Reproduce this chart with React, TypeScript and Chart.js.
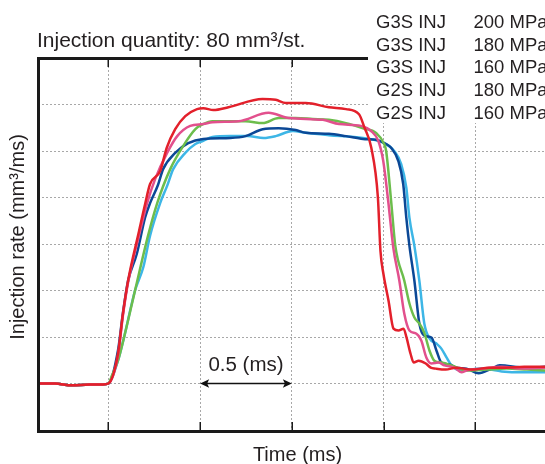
import React, { useEffect, useRef } from "react";
import { Chart, registerables } from "chart.js";

Chart.register(...registerables);

// ---- data (time in ms, injection rate in mm³/ms) ----
const baseT = [-0.386, -0.293, -0.2, -0.101, -0.03, 0];
const baseQ = [0, 0, -0.4, -0.2, -0.2, 0];

const redT = [0.052, 0.079, 0.107, 0.167, 0.2, 0.227, 0.282, 0.318, 0.364, 0.419, 0.483, 0.517, 0.572, 0.654, 0.84, 0.912, 0.967, 1.076, 1.202, 1.295, 1.366, 1.395, 1.433, 1.469, 1.483, 1.499, 1.527, 1.554, 1.581, 1.609, 1.625, 1.647, 1.664, 1.691, 1.73, 1.757, 1.785, 1.839, 1.894, 1.982, 2.075, 2.168, 2.267, 2.39];
const redQ = [6.4, 15.0, 22.1, 32.8, 38.6, 42.9, 45.7, 50.7, 54.7, 57.5, 59.0, 59.2, 58.8, 59.4, 61.2, 61.0, 60.3, 60.3, 59.4, 59.0, 57.9, 55.1, 50.7, 40.0, 28.5, 23.6, 17.8, 11.8, 11.4, 11.8, 9.9, 6.4, 4.5, 4.9, 4.3, 3.4, 3.2, 3.0, 3.4, 3.0, 3.4, 3.4, 3.6, 3.6];

const pinkT = [0.052, 0.079, 0.107, 0.162, 0.211, 0.255, 0.32, 0.375, 0.446, 0.517, 0.567, 0.709, 0.873, 0.983, 1.169, 1.257, 1.377, 1.432, 1.471, 1.498, 1.525, 1.553, 1.586, 1.613, 1.641, 1.679, 1.706, 1.733, 1.761, 1.799, 1.832, 1.887, 1.925, 1.952, 2.035, 2.144, 2.254, 2.39];
const pinkQ = [6.0, 14.6, 21.7, 31.1, 38.8, 44.0, 49.6, 53.2, 55.4, 55.8, 56.2, 56.4, 58.2, 57.1, 56.7, 55.8, 55.4, 54.3, 52.2, 47.9, 39.3, 29.2, 22.1, 15.0, 11.4, 10.7, 9.2, 5.6, 4.3, 4.5, 3.9, 3.4, 2.4, 2.8, 3.2, 3.6, 3.2, 3.4];

const greenT = [0.019, 0.052, 0.085, 0.145, 0.216, 0.266, 0.337, 0.408, 0.474, 0.517, 0.567, 0.747, 0.841, 0.928, 1.021, 1.114, 1.202, 1.295, 1.388, 1.459, 1.503, 1.514, 1.541, 1.564, 1.613, 1.641, 1.668, 1.695, 1.722, 1.75, 1.777, 1.815, 1.87, 1.952, 2.062, 2.171, 2.281, 2.39];
const greenQ = [1.7, 4.9, 9.9, 20.0, 31.8, 38.8, 46.1, 51.1, 54.7, 55.8, 56.4, 56.4, 56.0, 57.1, 57.1, 56.9, 56.7, 56.0, 54.9, 53.9, 51.5, 50.0, 39.3, 29.6, 22.1, 17.2, 14.2, 12.9, 10.9, 7.1, 4.9, 4.5, 3.9, 2.8, 3.0, 3.2, 3.0, 2.8];

const navyT = [0.052, 0.079, 0.107, 0.154, 0.2, 0.227, 0.27, 0.298, 0.364, 0.435, 0.517, 0.665, 0.747, 0.841, 0.928, 1.021, 1.076, 1.202, 1.295, 1.388, 1.459, 1.514, 1.541, 1.58, 1.607, 1.624, 1.641, 1.668, 1.695, 1.722, 1.761, 1.788, 1.815, 1.859, 1.898, 1.952, 2.018, 2.089, 2.133, 2.27, 2.39];
const navyQ = [7.1, 15.2, 22.1, 27.8, 35.7, 38.8, 42.7, 46.1, 49.6, 51.7, 52.6, 52.8, 53.2, 54.7, 54.9, 54.5, 53.9, 53.7, 53.2, 52.6, 52.4, 51.5, 50.7, 47.9, 42.9, 35.6, 29.6, 22.1, 12.9, 10.3, 9.9, 7.1, 4.5, 4.1, 3.4, 3.2, 2.2, 3.2, 3.9, 3.4, 3.6];

const skyT = [0.052, 0.085, 0.145, 0.19, 0.227, 0.282, 0.32, 0.353, 0.419, 0.474, 0.517, 0.567, 0.665, 0.758, 0.846, 0.912, 1.005, 1.076, 1.202, 1.388, 1.503, 1.558, 1.596, 1.624, 1.641, 1.668, 1.695, 1.722, 1.75, 1.788, 1.815, 1.843, 1.87, 1.925, 2.035, 2.144, 2.254, 2.39];
const skyQ = [4.9, 9.9, 20.0, 25.0, 31.8, 38.8, 42.5, 46.1, 49.6, 51.5, 52.2, 53.0, 53.2, 53.2, 52.8, 53.2, 54.3, 53.9, 53.4, 52.8, 51.7, 50.0, 47.2, 42.1, 35.6, 29.6, 22.1, 12.9, 9.7, 8.6, 7.5, 5.6, 3.9, 2.8, 3.2, 2.6, 2.4, 2.4];

const legendNames = ["G3S INJ", "G3S INJ", "G3S INJ", "G2S INJ", "G2S INJ"];
const legendPressures = ["200 MPa", "180 MPa", "160 MPa", "180 MPa", "160 MPa"];
const xTicks = [0, 0.5, 1, 1.5, 2];
const arrowSpan = [0.5, 1.0];

const FONT = '"Liberation Sans", Arial, Helvetica, sans-serif';
const TEXT = "#231f20";

function pts(t: number[], q: number[]) {
  const all = baseT.concat(t);
  const allQ = baseQ.concat(q);
  return all.map((x, i) => ({ x, y: allQ[i] }));
}

const overlay = {
  id: "overlay",
  afterDraw(chart: any) {
    const { ctx, chartArea: a, scales } = chart;
    const xs = scales.x;
    const ys = scales.y;
    const legendLeft = 368;
    const legendBottom = 123;
    ctx.save();

    // legend background box
    ctx.fillStyle = "#ffffff";
    ctx.fillRect(legendLeft, 0, chart.width - legendLeft, legendBottom);

    // frame
    ctx.strokeStyle = "#1a1a1a";
    ctx.lineCap = "butt";
    ctx.lineWidth = 3;
    ctx.beginPath();
    ctx.moveTo(a.left - 0.5, a.top + 0.5);
    ctx.lineTo(legendLeft, a.top + 0.5);
    ctx.stroke();
    ctx.beginPath();
    ctx.moveTo(a.left + 0.5, a.top - 1);
    ctx.lineTo(a.left + 0.5, a.bottom + 3);
    ctx.stroke();
    ctx.beginPath();
    ctx.moveTo(a.left - 1, a.bottom + 1.5);
    ctx.lineTo(a.right, a.bottom + 1.5);
    ctx.stroke();

    // tick marks
    ctx.lineWidth = 1.5;
    xTicks.forEach((v) => {
      const px = Math.round(xs.getPixelForValue(v)) + 0.25;
      ctx.beginPath();
      ctx.moveTo(px, a.bottom);
      ctx.lineTo(px, a.bottom - 8);
      ctx.stroke();
      if (px < legendLeft) {
        ctx.beginPath();
        ctx.moveTo(px, a.top + 1);
        ctx.lineTo(px, a.top + 9);
        ctx.stroke();
      }
    });

    // title
    ctx.fillStyle = TEXT;
    ctx.font = `21px ${FONT}`;
    ctx.textAlign = "left";
    ctx.textBaseline = "alphabetic";
    ctx.fillText("Injection quantity: 80 mm³/st.", 37, 47);

    // x-axis title
    ctx.font = `20px ${FONT}`;
    ctx.textAlign = "center";
    ctx.fillText("Time (ms)", (a.left + a.right) / 2 + 6, 461);

    // y-axis title
    ctx.save();
    ctx.translate(24, 237);
    ctx.rotate(-Math.PI / 2);
    ctx.textAlign = "center";
    ctx.fillText("Injection rate (mm³/ms)", 0, 0);
    ctx.restore();

    // legend text
    ctx.font = `18.5px ${FONT}`;
    ctx.textAlign = "left";
    const baselines = [28, 50.7, 73.4, 96.1, 118.8];
    legendNames.forEach((n, i) => {
      ctx.fillText(n, 376, baselines[i]);
      ctx.fillText(legendPressures[i], 473.5, baselines[i]);
    });

    // 0.5 ms arrow
    const x1 = xs.getPixelForValue(arrowSpan[0]);
    const x2 = xs.getPixelForValue(arrowSpan[1]);
    const yy = ys.getPixelForValue(0);
    ctx.strokeStyle = "#111";
    ctx.fillStyle = "#111";
    ctx.lineWidth = 1.6;
    ctx.beginPath();
    ctx.moveTo(x1 + 6, yy);
    ctx.lineTo(x2 - 6, yy);
    ctx.stroke();
    const head = (tip: number, dir: number) => {
      ctx.beginPath();
      ctx.moveTo(tip, yy);
      ctx.lineTo(tip + dir * 9, yy - 4.2);
      ctx.lineTo(tip + dir * 7, yy);
      ctx.lineTo(tip + dir * 9, yy + 4.2);
      ctx.closePath();
      ctx.fill();
    };
    head(x1, 1);
    head(x2, -1);
    ctx.fillStyle = TEXT;
    ctx.font = `20.5px ${FONT}`;
    ctx.textAlign = "center";
    ctx.fillText("0.5 (ms)", (x1 + x2) / 2, yy - 13);

    ctx.restore();
  },
};

export default function App() {
  const ref = useRef<HTMLCanvasElement | null>(null);

  useEffect(() => {
    if (!ref.current) return;
    const mk = (data: any, color: string) => ({
      data,
      borderColor: color,
      backgroundColor: color,
      borderWidth: 2.5,
      pointRadius: 0,
      fill: false,
      cubicInterpolationMode: "monotone" as const,
      borderJoinStyle: "round" as const,
      borderCapStyle: "round" as const,
    });
    const chart = new Chart(ref.current, {
      type: "line",
      data: {
        datasets: [
          mk(pts(redT, redQ), "#e3202b"),
          mk(pts(pinkT, pinkQ), "#e2508d"),
          mk(pts(greenT, greenQ), "#6cbd4c"),
          mk(pts(navyT, navyQ), "#0b4896"),
          mk(pts(skyT, skyQ), "#3db6e6"),
        ],
      },
      options: {
        responsive: false,
        animation: false,
        devicePixelRatio: 1,
        layout: { padding: { left: 38, top: 58, right: 0, bottom: 34 } },
        plugins: { legend: { display: false }, tooltip: { enabled: false }, title: { display: false } },
        scales: {
          x: {
            type: "linear",
            min: -0.384,
            max: 2.38,
            afterBuildTicks: (axis: any) => {
              axis.ticks = xTicks.map((v) => ({ value: v }));
            },
            ticks: { display: false },
            grid: { color: "#a8a8a8", lineWidth: 1, drawTicks: false },
            border: { display: false, dash: [2, 2] },
          },
          y: {
            type: "linear",
            min: -10,
            max: 70,
            ticks: { display: false, stepSize: 10 },
            grid: { color: "#a8a8a8", lineWidth: 1, drawTicks: false },
            border: { display: false, dash: [2, 2] },
          },
        },
      },
      plugins: [overlay],
    });
    return () => chart.destroy();
  }, []);

  return (
    <div style={{ position: "absolute", left: 0, top: 0, width: 545, height: 464, background: "#fff" }}>
      <canvas ref={ref} width={545} height={464} />
    </div>
  );
}
